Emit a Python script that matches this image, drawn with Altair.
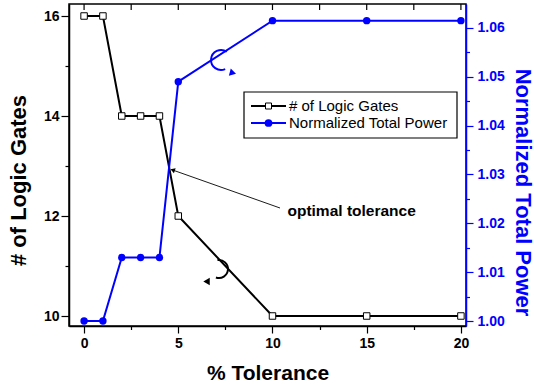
import altair as alt
import pandas as pd

# ---------------- data ----------------
tolerance = [0, 1, 2, 3, 4, 5, 10, 15, 20]
logic_gates = [16, 16, 14, 14, 14, 12, 10, 10, 10]
norm_power = [1.000, 1.000, 1.013, 1.013, 1.013, 1.049, 1.0615, 1.0615, 1.0615]

x_tick_values = [0, 2.5, 5, 7.5, 10, 12.5, 15, 17.5, 20]
left_tick_values = [10, 11, 12, 13, 14, 15, 16]
right_tick_values = [1.000, 1.005, 1.010, 1.015, 1.020, 1.025, 1.030,
                     1.035, 1.040, 1.045, 1.050, 1.055, 1.060]

series_names = ["# of Logic Gates", "Normalized Total Power"]
x_title = "% Tolerance"
left_title = "# of Logic Gates"
right_title = "Normalized Total Power"
note_text = "optimal tolerance"

# annotation anchors, in data units (tolerance, # of gates)
note_pos = [14.2, 12.1]
arrow_from = [10.4, 12.16]
arrow_to = [4.7, 12.92]
blue_curl = [7.27, 15.12]
blue_curl_tip = [7.9, 14.86]
black_curl = [7.16, 10.94]
black_curl_tip = [6.5, 10.69]

# ---------------- style ----------------
FONT = "Liberation Sans"
BLUE = "#0000ff"
W, H = 397, 322

df = pd.DataFrame({"tol": tolerance, "gates": logic_gates, "power": norm_power})

x_scale = alt.Scale(domain=[-0.8, 20.27], nice=False, zero=False)
yl_scale = alt.Scale(domain=[9.8, 16.24], nice=False, zero=False)
yr_scale = alt.Scale(domain=[0.99898, 1.06491], nice=False, zero=False)

x_axis = alt.Axis(
    values=x_tick_values, title=x_title, orient="bottom",
    labelExpr="datum.value % 5 == 0 ? datum.label : ''",
    tickSize={"condition": {"test": "datum.value % 5 != 0", "value": 3.5}, "value": 7},
    labelPadding=3, labelFlush=False, labelOverlap=False,
    titleX=198.5, titleY=47, titleBaseline="middle", titleAlign="center",
    titleFontSize=21, domainColor="black", tickColor="black",
)
yl_axis = alt.Axis(
    values=left_tick_values, title=left_title, orient="left",
    labelExpr="datum.value % 2 == 0 ? datum.label : ''",
    tickSize={"condition": {"test": "datum.value % 2 != 0", "value": 4}, "value": 8},
    labelPadding=2, labelOverlap=False,
    titleX=-51, titleY=176, titleAngle=270, titleBaseline="middle", titleAlign="center",
    titleFontSize=22, domainColor="black", tickColor="black",
)
yr_axis = alt.Axis(
    values=right_tick_values, title=right_title, orient="right",
    labelExpr="round(datum.value * 1000) % 10 == 0 ? format(datum.value, '.2f') : ''",
    tickSize={"condition": {"test": "round(datum.value * 1000) % 10 != 0", "value": 3.5}, "value": 7},
    labelPadding=4, labelOverlap=False,
    titleX=56, titleY=188, titleAngle=90, titleBaseline="middle", titleAlign="center",
    titleFontSize=22, domainColor=BLUE, tickColor=BLUE, labelColor=BLUE, titleColor=BLUE,
)

X = alt.X("tol:Q", scale=x_scale, axis=x_axis)
YL = alt.Y("gates:Q", scale=yl_scale, axis=yl_axis)
YR = alt.Y("power:Q", scale=yr_scale, axis=yr_axis)


def pt(p):
    return pd.DataFrame({"tol": [p[0]], "gates": [p[1]]})


# ---------------- left (# of gates) group ----------------
gates_line = alt.Chart(df).mark_line(color="black", strokeWidth=2).encode(x=X, y=YL)
gates_pts = alt.Chart(df).mark_square(
    size=42, fill="white", stroke="black", strokeWidth=1, opacity=1
).encode(x=X, y=YL)

top_ticks = alt.Chart(pd.DataFrame({"tol": x_tick_values})).mark_rule(
    color="black", strokeWidth=1.2
).encode(x=X, y=alt.value(0), y2=alt.value(6))

arrow_df = pd.DataFrame({"tol": [arrow_from[0], arrow_to[0]],
                         "gates": [arrow_from[1], arrow_to[1]]})
arrow_line = alt.Chart(arrow_df).mark_line(color="black", strokeWidth=0.9).encode(x=X, y=YL)
arrow_head = alt.Chart(pt(arrow_to)).mark_point(
    shape="triangle-left", filled=True, color="black", size=28, angle=19, opacity=1
).encode(x=X, y=YL)
note = alt.Chart(pd.DataFrame({"tol": [note_pos[0]], "gates": [note_pos[1]], "t": [note_text]})).mark_text(
    font=FONT, fontSize=15.5, fontWeight="bold", color="black", align="center", baseline="middle"
).encode(x=X, y=YL, text="t:N")

blue_arc = alt.Chart(pt(blue_curl)).mark_arc(
    radius=10, radius2=10, theta=2.72, theta2=6.89, stroke=BLUE, strokeWidth=2,
    fillOpacity=0, color=BLUE
).encode(x=X, y=YL)
blue_tip = alt.Chart(pt(blue_curl_tip)).mark_point(
    shape="triangle-right", filled=True, color=BLUE, size=55, angle=15, opacity=1
).encode(x=X, y=YL)
black_arc = alt.Chart(pt(black_curl)).mark_arc(
    radius=9, radius2=9, theta=6.11, theta2=9.77, stroke="black", strokeWidth=2,
    fillOpacity=0, color="black"
).encode(x=X, y=YL)
black_tip = alt.Chart(pt(black_curl_tip)).mark_point(
    shape="triangle-left", filled=True, color="black", size=55, angle=0, opacity=1
).encode(x=X, y=YL)

left = alt.layer(gates_line, gates_pts, top_ticks, arrow_line, arrow_head, note,
                 blue_arc, blue_tip, black_arc, black_tip)

# ---------------- right (power) group ----------------
power_line = alt.Chart(df).mark_line(color=BLUE, strokeWidth=2).encode(x=X, y=YR)
power_pts = alt.Chart(df).mark_circle(size=55, color=BLUE, opacity=1).encode(x=X, y=YR)
right = alt.layer(power_line, power_pts)

# ---------------- legend (drawn by hand) ----------------
one0 = pd.DataFrame({"label": [series_names[0]]})
one1 = pd.DataFrame({"label": [series_names[1]]})

leg_box = alt.Chart(one0).mark_rect(fill="white", stroke="black", strokeWidth=1.2).encode(
    x=alt.value(175), x2=alt.value(388), y=alt.value(88), y2=alt.value(134))
leg_l1 = alt.Chart(one0).mark_rule(color="black", strokeWidth=2).encode(
    x=alt.value(182), x2=alt.value(217), y=alt.value(102))
leg_m1 = alt.Chart(one0).mark_square(size=36, fill="white", stroke="black", strokeWidth=1, opacity=1).encode(
    x=alt.value(199.5), y=alt.value(102))
leg_t1 = alt.Chart(one0).mark_text(font=FONT, fontSize=15, align="left", baseline="middle", color="black").encode(
    x=alt.value(220), y=alt.value(102), text="label:N")
leg_l2 = alt.Chart(one1).mark_rule(color=BLUE, strokeWidth=2).encode(
    x=alt.value(182), x2=alt.value(217), y=alt.value(119))
leg_m2 = alt.Chart(one1).mark_circle(size=60, color=BLUE, opacity=1).encode(
    x=alt.value(199.5), y=alt.value(119))
leg_t2 = alt.Chart(one1).mark_text(font=FONT, fontSize=15, align="left", baseline="middle", color="black").encode(
    x=alt.value(220), y=alt.value(119), text="label:N")
legend = alt.layer(leg_box, leg_l1, leg_m1, leg_t1, leg_l2, leg_m2, leg_t2)

chart = (
    alt.layer(left, right, legend)
    .resolve_scale(y="independent")
    .properties(
        width=W, height=H,
        padding={"left": 69, "top": 4, "right": 68, "bottom": 60},
        autosize=alt.AutoSizeParams(type="none"),
        background="white",
    )
    .configure_view(stroke="black", strokeWidth=1.5)
    .configure_axis(
        grid=False, labelFont=FONT, titleFont=FONT, labelFontWeight="bold",
        titleFontWeight="bold", labelFontSize=14, domainWidth=1.5, tickWidth=1.2,
    )
)

chart.save("out.html", embed_options={"renderer": "svg", "actions": False})
